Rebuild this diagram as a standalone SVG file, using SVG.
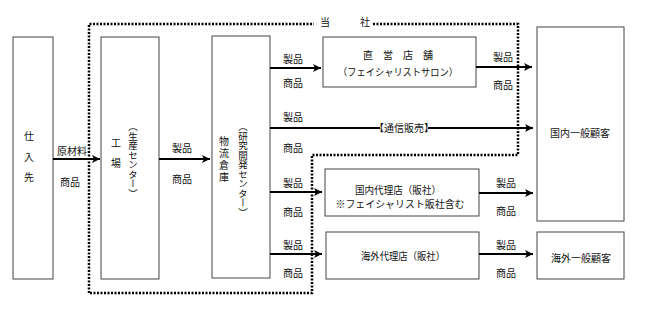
<svg xmlns="http://www.w3.org/2000/svg" width="647" height="333" viewBox="0 0 647 333">
<style>
text{font-family:"Liberation Serif","Noto Sans CJK JP",serif;font-size:10px;fill:#111;}
.c{text-anchor:middle;dominant-baseline:central;}
.v{writing-mode:vertical-rl;font-size:9.5px;}
.box{fill:#fff;stroke:#444;stroke-width:1;}
.ln{fill:none;stroke:#000;stroke-width:2;}
.dot{fill:none;stroke:#000;stroke-width:2.5;stroke-dasharray:2 1.5;}
</style>
<defs>
<marker id="ah" markerUnits="userSpaceOnUse" markerWidth="10" markerHeight="10" refX="8" refY="4" orient="auto" viewBox="0 0 10 10">
<path d="M0,0 L8,4 L0,8 L2,4 z" fill="#000"/>
</marker>
</defs>

<g id="company">
<path class="dot" d="M89,293 L89,24 L518,24 L518,155 L312,155 L312,293 Z"/>
<rect x="314" y="14" width="58" height="18" fill="#fff"/>
<text class="c" x="325" y="22">当</text>
<text class="c" x="365" y="22">社</text>
</g>

<g id="supplier">
<rect class="box" x="13" y="37" width="40" height="242"/>
<text class="c" x="29" y="136">仕</text>
<text class="c" x="29" y="157">入</text>
<text class="c" x="29" y="177">先</text>
</g>

<g id="factory">
<rect class="box" x="101" y="37" width="58" height="242"/>
<text class="c" x="116" y="143">工</text>
<text class="c" x="116" y="163">場</text>
<text class="v" x="132" y="122">（生産センター）</text>
</g>

<g id="warehouse">
<rect class="box" x="212" y="36" width="58" height="242"/>
<text class="v" x="223" y="136" style="font-size:10px;letter-spacing:2px">物流倉庫</text>
<text class="v" x="242" y="122">（研究開発センター）</text>
</g>

<g id="direct-store">
<rect class="box" x="323" y="37" width="153" height="50"/>
<text class="c" x="398" y="55">直　営　店　舗</text>
<text class="c" x="398" y="72" textLength="120" lengthAdjust="spacingAndGlyphs">（フェイシャリストサロン）</text>
</g>

<g id="domestic-agent">
<rect class="box" x="325" y="169" width="154" height="47"/>
<text class="c" x="398" y="190" textLength="86" lengthAdjust="spacingAndGlyphs">国内代理店（販社）</text>
<text class="c" x="400" y="204" textLength="129" lengthAdjust="spacingAndGlyphs">※フェイシャリスト販社含む</text>
</g>

<g id="overseas-agent">
<rect class="box" x="326" y="232" width="153" height="47"/>
<text class="c" x="403" y="256" textLength="84" lengthAdjust="spacingAndGlyphs">海外代理店（販社）</text>
</g>

<g id="domestic-customer">
<rect class="box" x="537" y="27" width="87" height="194"/>
<text class="c" x="580" y="133">国内一般顧客</text>
</g>

<g id="overseas-customer">
<rect class="box" x="537" y="232" width="87" height="47"/>
<text class="c" x="581" y="258">海外一般顧客</text>
</g>

<g id="connectors">
<line class="ln" x1="53" y1="159" x2="100" y2="159" marker-end="url(#ah)"/>
<line class="ln" x1="159" y1="159" x2="210" y2="159" marker-end="url(#ah)"/>
<line class="ln" x1="270" y1="68" x2="321" y2="68" marker-end="url(#ah)"/>
<line class="ln" x1="270" y1="128" x2="533" y2="128" marker-end="url(#ah)"/>
<line class="ln" x1="270" y1="192" x2="322" y2="192" marker-end="url(#ah)"/>
<line class="ln" x1="270" y1="254" x2="322" y2="254" marker-end="url(#ah)"/>
<line class="ln" x1="476" y1="67" x2="532" y2="67" marker-end="url(#ah)"/>
<line class="ln" x1="479" y1="193" x2="533" y2="193" marker-end="url(#ah)"/>
<line class="ln" x1="479" y1="254" x2="533" y2="254" marker-end="url(#ah)"/>
<rect x="380" y="121" width="48" height="14" fill="#fff"/>
<text class="c" x="404" y="128">【通信販売】</text>
<text class="c" x="72" y="151">原材料</text>
<text class="c" x="70" y="182">商品</text>
<text class="c" x="182" y="148">製品</text>
<text class="c" x="182" y="179">商品</text>
<text class="c" x="293" y="59">製品</text>
<text class="c" x="293" y="83">商品</text>
<text class="c" x="293" y="117">製品</text>
<text class="c" x="293" y="148">商品</text>
<text class="c" x="293" y="183">製品</text>
<text class="c" x="293" y="212">商品</text>
<text class="c" x="293" y="245">製品</text>
<text class="c" x="293" y="273">商品</text>
<text class="c" x="503" y="57">製品</text>
<text class="c" x="503" y="85">商品</text>
<text class="c" x="506" y="183">製品</text>
<text class="c" x="506" y="211">商品</text>
<text class="c" x="506" y="245">製品</text>
<text class="c" x="506" y="273">商品</text>
</g>
</svg>
